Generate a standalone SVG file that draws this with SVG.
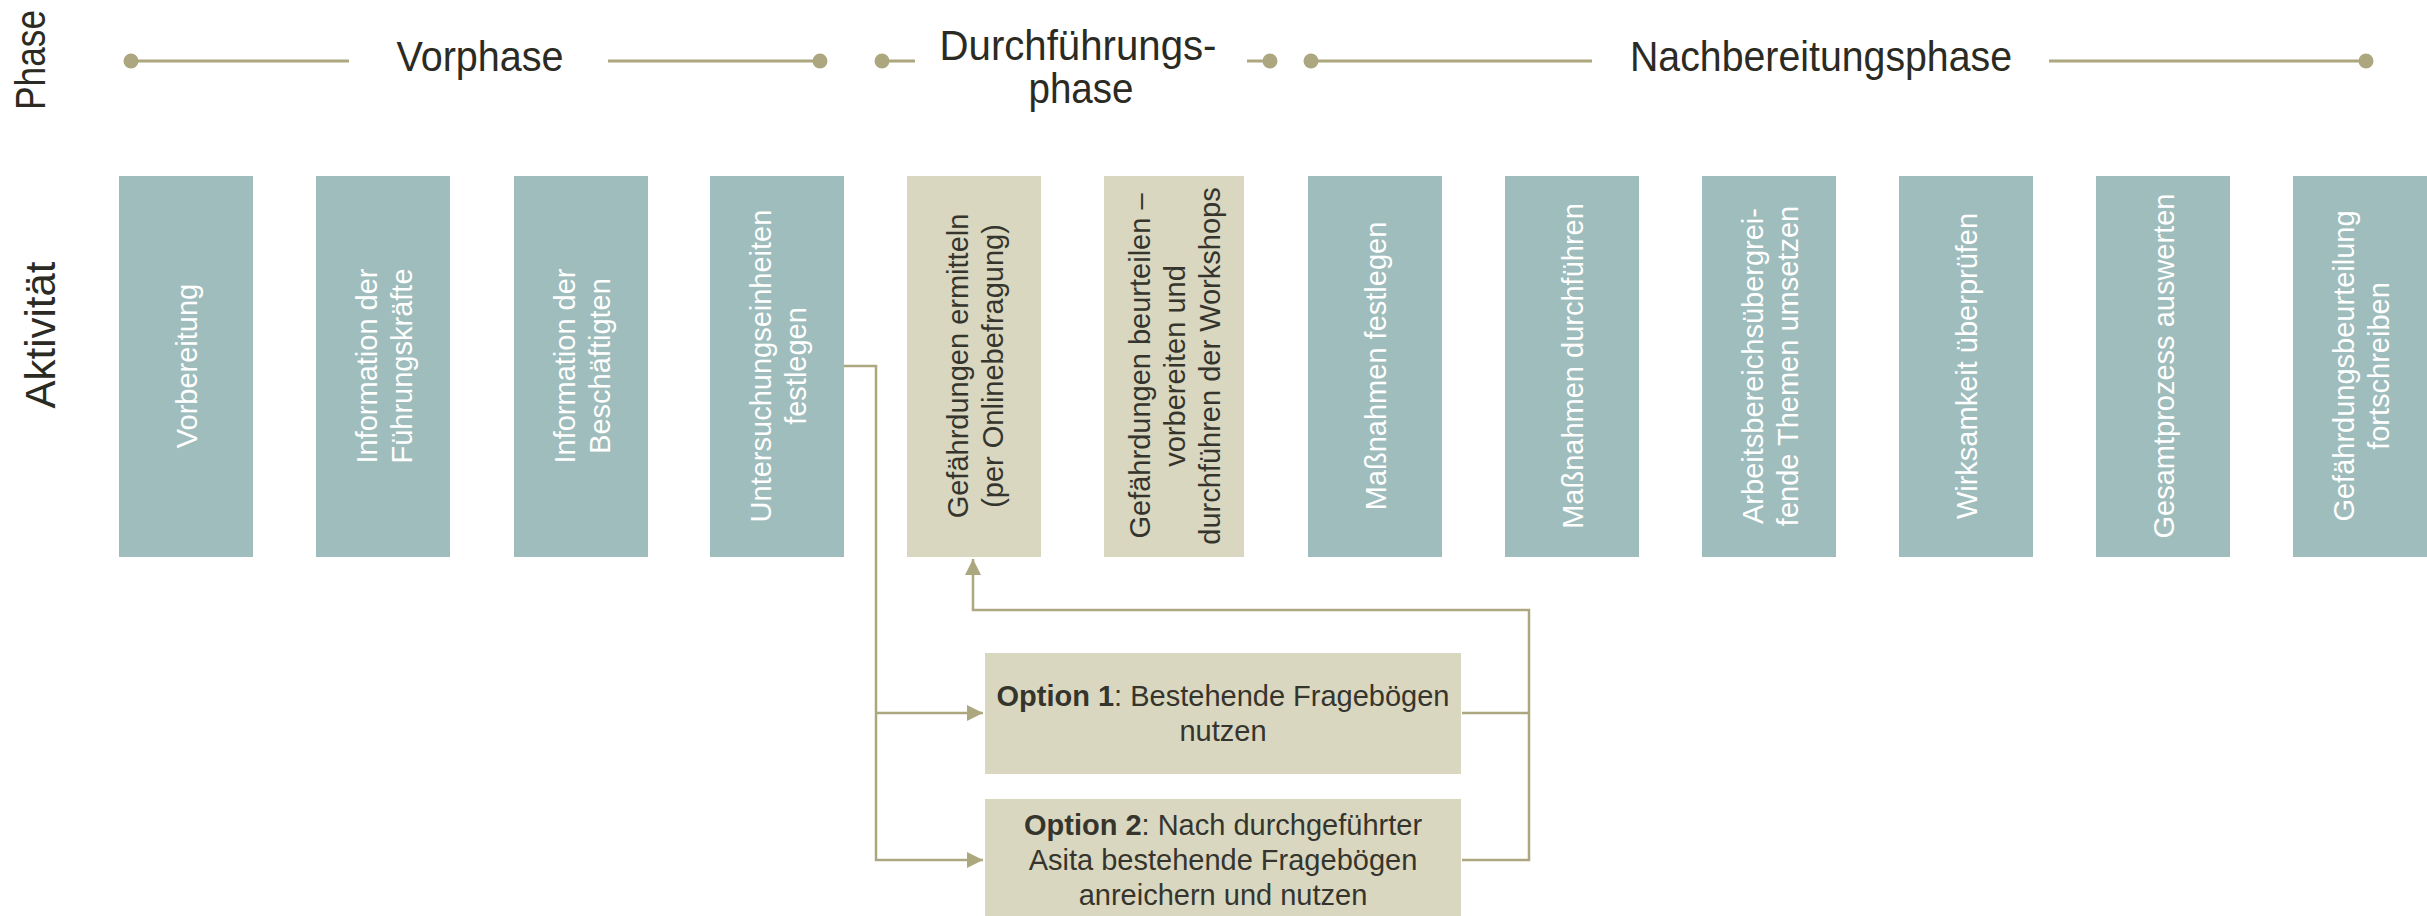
<svg xmlns="http://www.w3.org/2000/svg" width="2427" height="916" viewBox="0 0 2427 916">
<style>
.bg{fill:#ffffff}
.teal{fill:#9ebdbc}
.beige{fill:#d9d7c0}
.t{font-family:"Liberation Sans",Arial,sans-serif;font-size:29px;text-anchor:middle}
.tw{fill:#ffffff}
.td{fill:#35352d}
.hdr{font-family:"Liberation Sans",Arial,sans-serif;font-size:42px;fill:#2b2b23;text-anchor:middle}
.pl{stroke:#aca77f;stroke-width:3;fill:none}
.dot{fill:#aca77f}
.con{stroke:#aca77f;stroke-width:2.5;fill:none}
.b{font-weight:bold}
</style>
<defs>
<marker id="arr" markerUnits="userSpaceOnUse" markerWidth="18" markerHeight="16" refX="16" refY="8" orient="auto">
<path d="M0,0 L16,8 L0,16 Z" fill="#aca77f"/>
</marker>
</defs>
<rect class="bg" x="0" y="0" width="2427" height="916"/>

<g id="row-labels">
<text class="hdr" transform="translate(45,60) rotate(-90)" textLength="100" lengthAdjust="spacingAndGlyphs">Phase</text>
<text class="hdr" transform="translate(55,335) rotate(-90)" font-size="43" textLength="147" lengthAdjust="spacingAndGlyphs">Aktivität</text>
</g>

<g id="phase-vorphase">
<line class="pl" x1="131" y1="61" x2="349" y2="61"/>
<line class="pl" x1="608" y1="61" x2="820" y2="61"/>
<circle class="dot" cx="131" cy="61" r="7.5"/>
<circle class="dot" cx="820" cy="61" r="7.5"/>
<text class="hdr" x="480" y="71" textLength="167" lengthAdjust="spacingAndGlyphs">Vorphase</text>
</g>
<g id="phase-durchfuehrung">
<line class="pl" x1="882" y1="61" x2="915" y2="61"/>
<line class="pl" x1="1247" y1="61" x2="1270" y2="61"/>
<circle class="dot" cx="882" cy="61" r="7.5"/>
<circle class="dot" cx="1270" cy="61" r="7.5"/>
<text class="hdr" x="1078" y="60" textLength="277" lengthAdjust="spacingAndGlyphs">Durchführungs-</text>
<text class="hdr" x="1081" y="103" textLength="105" lengthAdjust="spacingAndGlyphs">phase</text>
</g>
<g id="phase-nachbereitung">
<line class="pl" x1="1311" y1="61" x2="1592" y2="61"/>
<line class="pl" x1="2049" y1="61" x2="2366" y2="61"/>
<circle class="dot" cx="1311" cy="61" r="7.5"/>
<circle class="dot" cx="2366" cy="61" r="7.5"/>
<text class="hdr" x="1821" y="71" textLength="382" lengthAdjust="spacingAndGlyphs">Nachbereitungsphase</text>
</g>

<g id="a1"><rect class="teal" x="119" y="176" width="134" height="381"/>
<text class="t tw" transform="translate(197,366) rotate(-90)">Vorbereitung</text></g>
<g id="a2"><rect class="teal" x="316" y="176" width="134" height="381"/>
<text class="t tw" transform="translate(376.5,366) rotate(-90)"><tspan x="0">Information der</tspan><tspan x="0" dy="35">Führungskräfte</tspan></text></g>
<g id="a3"><rect class="teal" x="514" y="176" width="134" height="381"/>
<text class="t tw" transform="translate(574.5,366) rotate(-90)"><tspan x="0">Information der</tspan><tspan x="0" dy="35">Beschäftigten</tspan></text></g>
<g id="a4"><rect class="teal" x="710" y="176" width="134" height="381"/>
<text class="t tw" transform="translate(770.5,366) rotate(-90)"><tspan x="0">Untersuchungseinheiten</tspan><tspan x="0" dy="35">festlegen</tspan></text></g>
<g id="a5"><rect class="beige" x="907" y="176" width="134" height="381"/>
<text class="t td" transform="translate(967.5,366) rotate(-90)"><tspan x="0">Gefährdungen ermitteln</tspan><tspan x="0" dy="35">(per Onlinebefragung)</tspan></text></g>
<g id="a6"><rect class="beige" x="1104" y="176" width="140" height="381"/>
<text class="t td" transform="translate(1150,366) rotate(-90)"><tspan x="0">Gefährdungen beurteilen –</tspan><tspan x="0" dy="35">vorbereiten und</tspan><tspan x="0" dy="35">durchführen der Workshops</tspan></text></g>
<g id="a7"><rect class="teal" x="1308" y="176" width="134" height="381"/>
<text class="t tw" transform="translate(1386,366) rotate(-90)">Maßnahmen festlegen</text></g>
<g id="a8"><rect class="teal" x="1505" y="176" width="134" height="381"/>
<text class="t tw" transform="translate(1583,366) rotate(-90)">Maßnahmen durchführen</text></g>
<g id="a9"><rect class="teal" x="1702" y="176" width="134" height="381"/>
<text class="t tw" transform="translate(1762.5,366) rotate(-90)"><tspan x="0">Arbeitsbereichsübergrei-</tspan><tspan x="0" dy="35">fende Themen umsetzen</tspan></text></g>
<g id="a10"><rect class="teal" x="1899" y="176" width="134" height="381"/>
<text class="t tw" transform="translate(1977,366) rotate(-90)">Wirksamkeit überprüfen</text></g>
<g id="a11"><rect class="teal" x="2096" y="176" width="134" height="381"/>
<text class="t tw" transform="translate(2174,366) rotate(-90)">Gesamtprozess auswerten</text></g>
<g id="a12"><rect class="teal" x="2293" y="176" width="134" height="381"/>
<text class="t tw" transform="translate(2353.5,366) rotate(-90)"><tspan x="0">Gefährdungsbeurteilung</tspan><tspan x="0" dy="35">fortschreiben</tspan></text></g>

<g id="opt1"><rect class="beige" x="985" y="653" width="476" height="121"/>
<text class="t td" x="1223" y="705.5"><tspan class="b">Option 1</tspan>: Bestehende Fragebögen</text>
<text class="t td" x="1223" y="741">nutzen</text></g>
<g id="opt2"><rect class="beige" x="985" y="799" width="476" height="124"/>
<text class="t td" x="1223" y="835"><tspan class="b">Option 2</tspan>: Nach durchgeführter</text>
<text class="t td" x="1223" y="870">Asita bestehende Fragebögen</text>
<text class="t td" x="1223" y="905">anreichern und nutzen</text></g>

<g id="connectors">
<polyline class="con" points="844,366 876,366 876,860 983,860" marker-end="url(#arr)"/>
<line class="con" x1="876" y1="713" x2="983" y2="713" marker-end="url(#arr)"/>
<line class="con" x1="1462" y1="713" x2="1529" y2="713"/>
<polyline class="con" points="1462,860 1529,860 1529,610 973,610 973,559" marker-end="url(#arr)"/>
</g>
</svg>
